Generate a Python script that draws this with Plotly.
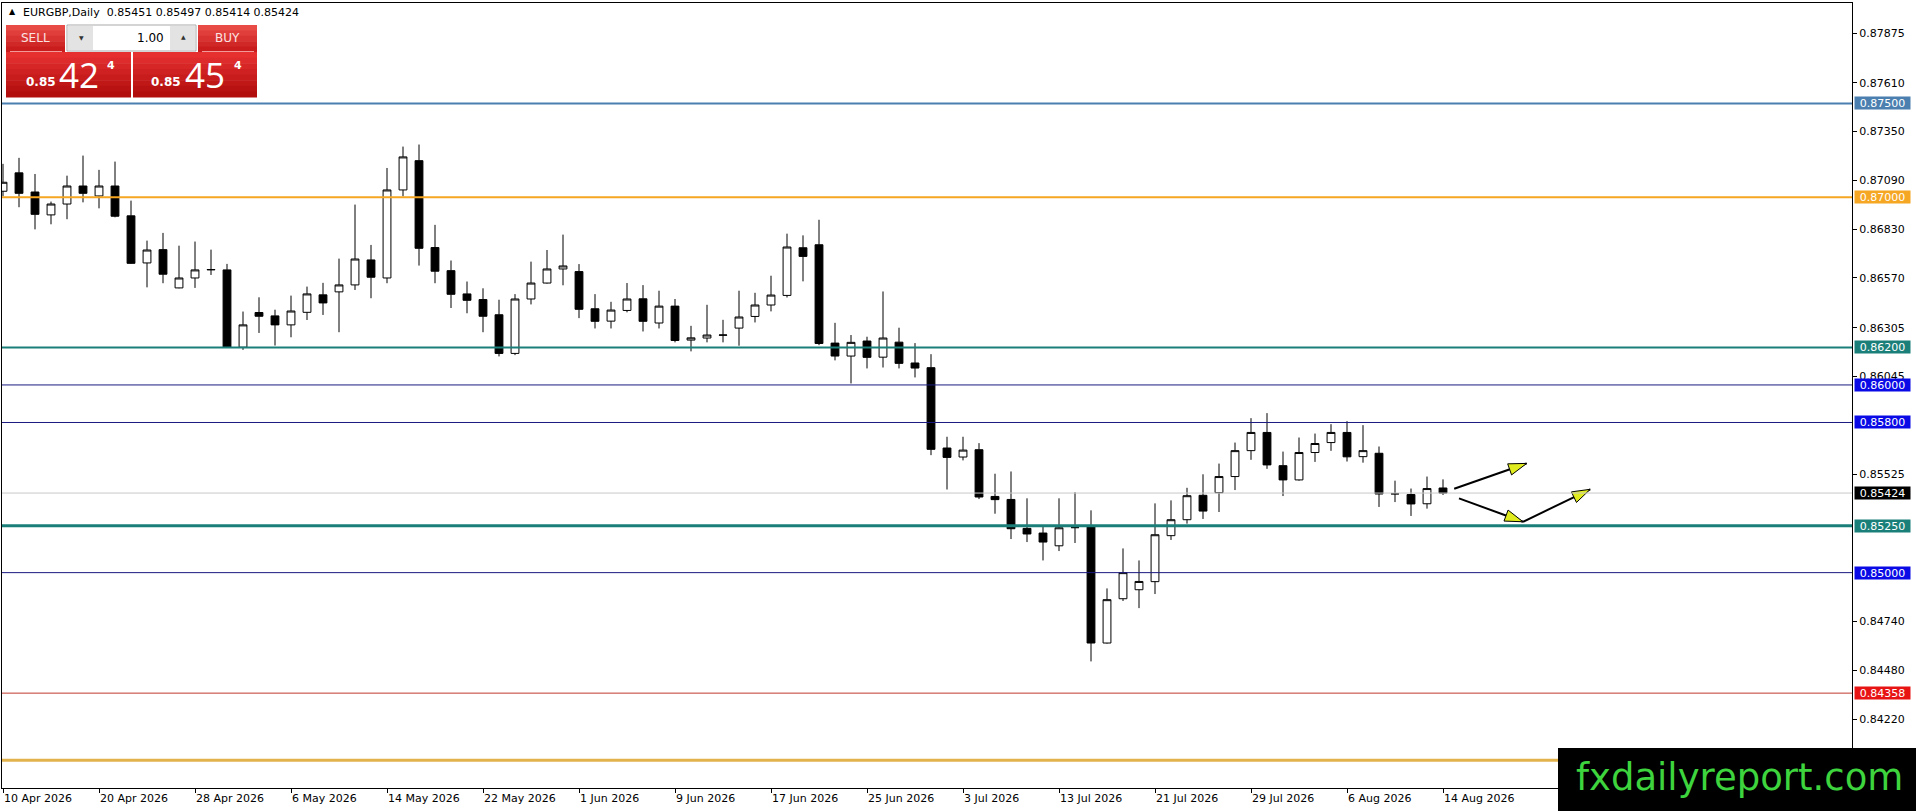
import math
import pandas as pd
import plotly.graph_objects as go

# daily EURGBP bars, 10 Apr 2026 .. 14 Aug 2026 (trading days only)
dates = pd.bdate_range("2026-04-10", "2026-08-14")

opens = [0.87032, 0.87130, 0.87028, 0.86906, 0.86964, 0.87060, 0.87007, 0.87060, 0.86901, 0.86650,
         0.86721, 0.86517, 0.86570, 0.86613, 0.86613, 0.86201, 0.86386, 0.86368, 0.86320, 0.86387,
         0.86480, 0.86496, 0.86533, 0.86666, 0.86570, 0.87039, 0.87195, 0.86732, 0.86609, 0.86485,
         0.86455, 0.86374, 0.86168, 0.86458, 0.86543, 0.86618, 0.86604, 0.86406, 0.86340, 0.86397,
         0.86459, 0.86330, 0.86420, 0.86239, 0.86250, 0.86265, 0.86303, 0.86365, 0.86426, 0.86477,
         0.86731, 0.86747, 0.86223, 0.86154, 0.86234, 0.86148, 0.86228, 0.86117, 0.86092, 0.85664,
         0.85616, 0.85655, 0.85406, 0.85390, 0.85236, 0.85211, 0.85143, 0.85240, 0.85243, 0.84625,
         0.84861, 0.84909, 0.84952, 0.85197, 0.85282, 0.85412, 0.85426, 0.85512, 0.85650, 0.85747,
         0.85570, 0.85494, 0.85640, 0.85693, 0.85747, 0.85618, 0.85636, 0.85420, 0.85416, 0.85367,
         0.85451]
highs = [0.87178, 0.87210, 0.87124, 0.86977, 0.87115, 0.87222, 0.87146, 0.87190, 0.86982, 0.86769,
         0.86810, 0.86742, 0.86764, 0.86721, 0.86645, 0.86391, 0.86467, 0.86401, 0.86476, 0.86524,
         0.86544, 0.86673, 0.86961, 0.86746, 0.87156, 0.87270, 0.87281, 0.86853, 0.86663, 0.86551,
         0.86515, 0.86454, 0.86484, 0.86657, 0.86719, 0.86801, 0.86644, 0.86484, 0.86443, 0.86543,
         0.86532, 0.86502, 0.86458, 0.86315, 0.86427, 0.86347, 0.86502, 0.86491, 0.86582, 0.86806,
         0.86797, 0.86880, 0.86331, 0.86266, 0.86257, 0.86498, 0.86305, 0.86223, 0.86164, 0.85724,
         0.85724, 0.85690, 0.85527, 0.85539, 0.85396, 0.85243, 0.85396, 0.85428, 0.85332, 0.84916,
         0.85129, 0.85065, 0.85369, 0.85385, 0.85452, 0.85524, 0.85581, 0.85693, 0.85823, 0.85850,
         0.85645, 0.85720, 0.85741, 0.85791, 0.85807, 0.85786, 0.85672, 0.85490, 0.85448, 0.85512,
         0.85497]
lows = [0.87005, 0.86947, 0.86829, 0.86856, 0.86883, 0.86973, 0.86941, 0.86893, 0.86645, 0.86520,
        0.86542, 0.86515, 0.86517, 0.86586, 0.86199, 0.86187, 0.86277, 0.86210, 0.86254, 0.86346,
        0.86373, 0.86281, 0.86506, 0.86462, 0.86542, 0.87005, 0.86636, 0.86542, 0.86410, 0.86382,
        0.86281, 0.86152, 0.86159, 0.86429, 0.86540, 0.86531, 0.86356, 0.86301, 0.86301, 0.86387,
        0.86285, 0.86301, 0.86227, 0.86179, 0.86227, 0.86227, 0.86209, 0.86333, 0.86392, 0.86466,
        0.86552, 0.86212, 0.86131, 0.86008, 0.86088, 0.86093, 0.86088, 0.86040, 0.85626, 0.85443,
        0.85598, 0.85392, 0.85314, 0.85179, 0.85163, 0.85065, 0.85115, 0.85158, 0.84527, 0.84622,
        0.84849, 0.84811, 0.84886, 0.85174, 0.85261, 0.85286, 0.85323, 0.85440, 0.85601, 0.85553,
        0.85408, 0.85490, 0.85590, 0.85649, 0.85592, 0.85586, 0.85350, 0.85376, 0.85302, 0.85341,
        0.85414]
closes = [0.87080, 0.87021, 0.86909, 0.86964, 0.87060, 0.87021, 0.87060, 0.86899, 0.86648, 0.86719,
          0.86590, 0.86570, 0.86613, 0.86615, 0.86201, 0.86320, 0.86366, 0.86320, 0.86394, 0.86485,
          0.86437, 0.86533, 0.86671, 0.86574, 0.87039, 0.87215, 0.86728, 0.86606, 0.86483, 0.86451,
          0.86366, 0.86168, 0.86458, 0.86543, 0.86618, 0.86634, 0.86403, 0.86339, 0.86399, 0.86458,
          0.86339, 0.86420, 0.86237, 0.86251, 0.86266, 0.86266, 0.86362, 0.86426, 0.86479, 0.86735,
          0.86685, 0.86221, 0.86154, 0.86227, 0.86147, 0.86250, 0.86115, 0.86090, 0.85657, 0.85614,
          0.85653, 0.85403, 0.85389, 0.85234, 0.85206, 0.85163, 0.85239, 0.85240, 0.84625, 0.84856,
          0.85000, 0.84953, 0.85202, 0.85282, 0.85410, 0.85328, 0.85512, 0.85650, 0.85747, 0.85574,
          0.85494, 0.85640, 0.85688, 0.85747, 0.85617, 0.85650, 0.85419, 0.85420, 0.85366, 0.85448,
          0.85424]

# horizontal levels drawn on the chart
level_prices = [0.87500, 0.87000, 0.86200, 0.86000, 0.85800, 0.85424, 0.85250, 0.85000, 0.84358, 0.84000]
level_colors = ["#4A7FB0", "#F5A623", "#1B7F79", "#1A1A80", "#1A1A80", "#C8C8C8", "#1B7F79", "#1A1A80",
                "#C0392B", "#E2B24C"]
level_widths = [2, 2, 2, 1, 1, 1, 3, 1, 1, 3]
label_colors = ["#4A7FB0", "#F5A623", "#1B7F79", "#0A0AE6", "#0A0AE6", "#000000", "#1B7F79", "#0A0AE6",
                "#E81414", None]

price_ticks = [0.87875, 0.87610, 0.87350, 0.87090, 0.86830, 0.86570, 0.86305, 0.86045,
               0.85525, 0.84740, 0.84480, 0.84220]

# arrows: (bar start, price start, bar end, price end)
arrows = [(90.7, 0.85447, 95.23, 0.85582),
          (91.0, 0.85396, 95.0, 0.85271),
          (95.0, 0.85271, 99.2, 0.85444)]

W, H = 1916, 811
L, R, T, B = 2, 64, 3, 23
x_range = [-0.0625, 115.5625]
y_range = [0.838526, 0.88035]
FONT = "DejaVu Sans"


def px(x):
    return (x - L) / (W - L - R)


def py(y):
    return (H - B - y) / (H - T - B)


x = list(range(len(dates)))

fig = go.Figure()
fig.add_trace(go.Candlestick(
    x=x, open=opens, high=highs, low=lows, close=closes,
    increasing=dict(line=dict(color="black", width=1), fillcolor="white"),
    decreasing=dict(line=dict(color="black", width=1), fillcolor="black"),
    whiskerwidth=0, hoverinfo="skip", showlegend=False))

# level lines + price labels
shapes = []
annotations = []
for p, c, w, lc in zip(level_prices, level_colors, level_widths, label_colors):
    shapes.append(dict(type="line", xref="paper", x0=0, x1=1, yref="y", y0=p, y1=p,
                       line=dict(color=c, width=w), layer="above"))
    if lc:
        annotations.append(dict(xref="paper", x=px(1854), xanchor="left", yref="y", y=p,
                                yanchor="middle", text=f"{p:.5f}", showarrow=False,
                                bgcolor=lc, width=55, height=12, borderpad=0, align="center",
                                font=dict(family=FONT, size=11, color="white")))

# arrows
xs_px = (W - L - R) / (x_range[1] - x_range[0])
ys_px = (H - T - B) / (y_range[1] - y_range[0])
for x0, y0, x1, y1 in arrows:
    fig.add_trace(go.Scatter(x=[x0, x1], y=[y0, y1], mode="lines",
                             line=dict(color="black", width=2), hoverinfo="skip", showlegend=False))
    ang = math.degrees(math.atan2((x1 - x0) * xs_px, (y1 - y0) * ys_px))
    fig.add_trace(go.Scatter(x=[x1], y=[y1], mode="markers",
                             marker=dict(symbol="arrow", angle=ang, size=19, color="#E1EC1E",
                                         line=dict(color="black", width=1)),
                             hoverinfo="skip", showlegend=False))


def rect(x0, y0, x1, y1, fill, line=None):
    shapes.append(dict(type="rect", xref="paper", yref="paper", x0=px(x0), x1=px(x1),
                       y0=py(y1), y1=py(y0), fillcolor=fill, layer="above",
                       line=dict(width=1 if line else 0, color=line or fill)))


def grad(x0, y0, x1, y1, top, bottom, n=8):
    t0 = [int(top[i:i + 2], 16) for i in (1, 3, 5)]
    b0 = [int(bottom[i:i + 2], 16) for i in (1, 3, 5)]
    h = (y1 - y0) / n
    for k in range(n):
        f = k / (n - 1)
        col = "#%02x%02x%02x" % tuple(int(t0[j] + (b0[j] - t0[j]) * f) for j in range(3))
        rect(x0, y0 + k * h, x1, y0 + (k + 1) * h + 0.5, col)


# one-click trading panel
grad(6, 25, 65, 52, "#E84A46", "#C91D1D", 5)
grad(198, 25, 257, 52, "#E84A46", "#C91D1D", 5)
rect(67, 25, 196, 51, "white", "#A9A9A9")
rect(68, 26, 93, 50, "#E3E3E3")
rect(170, 26, 195, 50, "#E3E3E3")
grad(6, 52, 131, 97, "#E63030", "#B20E0E", 8)
grad(133, 52, 257, 97, "#E63030", "#B20E0E", 8)
shapes.append(dict(type="line", xref="paper", yref="paper", x0=px(10), x1=px(62), y0=py(51.5), y1=py(51.5),
                   line=dict(color="#F29A9A", width=1), layer="above"))
shapes.append(dict(type="line", xref="paper", yref="paper", x0=px(202), x1=px(254), y0=py(51.5), y1=py(51.5),
                   line=dict(color="#F29A9A", width=1), layer="above"))

# watermark box
rect(1558, 748, 1916, 811, "black")


def txt(xp, yp, s, size, color="black", anchor="left", family=FONT):
    annotations.append(dict(xref="paper", yref="paper", x=px(xp), y=py(yp), xanchor=anchor,
                            yanchor="middle", text=s, showarrow=False,
                            font=dict(family=family, size=size, color=color)))


txt(7, 12, "▲", 8)
txt(21, 13, "EURGBP,Daily  0.85451 0.85497 0.85414 0.85424", 11)
txt(35, 38, "SELL", 12, "#FBE3E3", "center")
txt(227, 38, "BUY", 12, "#FBE3E3", "center")
txt(81, 38, "▼", 6, "#333333", "center")
txt(183, 37, "▲", 6, "#333333", "center")
txt(166, 38, "1.00", 12, "black", "right")
txt(24, 82, "<b>0.85</b>", 12, "white")
txt(57, 75, "42", 35, "white", family="Open Sans")
txt(105, 66, "<b>4</b>", 11, "white")
txt(149, 82, "<b>0.85</b>", 12, "white")
txt(183, 75, "45", 35, "white", family="Open Sans")
txt(232, 66, "<b>4</b>", 11, "white")
txt(1739, 777, "fxdailyreport.com", 37, "#3ED43E", "center")

fig.update_layout(
    template="none",
    width=W, height=H,
    margin=dict(l=L, r=R, t=T, b=B, pad=0),
    paper_bgcolor="white", plot_bgcolor="white",
    font=dict(family=FONT, size=11, color="black"),
    shapes=shapes, annotations=annotations,
    showlegend=False, hovermode=False,
    xaxis=dict(range=x_range, rangeslider=dict(visible=False), automargin=False,
               tickmode="array", tickvals=x[::6],
               ticktext=[d.strftime("%-d %b %Y") for d in dates[::6]],
               ticklabelposition="outside right",
               ticks="outside", ticklen=4, tickcolor="black", showgrid=False, zeroline=False,
               showline=True, linecolor="black", linewidth=1, mirror=True,
               tickfont=dict(family=FONT, size=11)),
    yaxis=dict(range=y_range, side="right", automargin=False,
               tickmode="array", tickvals=price_ticks,
               ticktext=[f"{v:.5f}" for v in price_ticks],
               ticks="outside", ticklen=4, tickcolor="black", showgrid=False, zeroline=False,
               showline=True, linecolor="black", linewidth=1, mirror=True,
               tickfont=dict(family=FONT, size=11)),
)

# the page body has a default 8px margin; drop it so the figure sits at the window corner
fig.write_html("out.html", config={"displayModeBar": False},
               post_script="document.body.style.margin='0px';")
